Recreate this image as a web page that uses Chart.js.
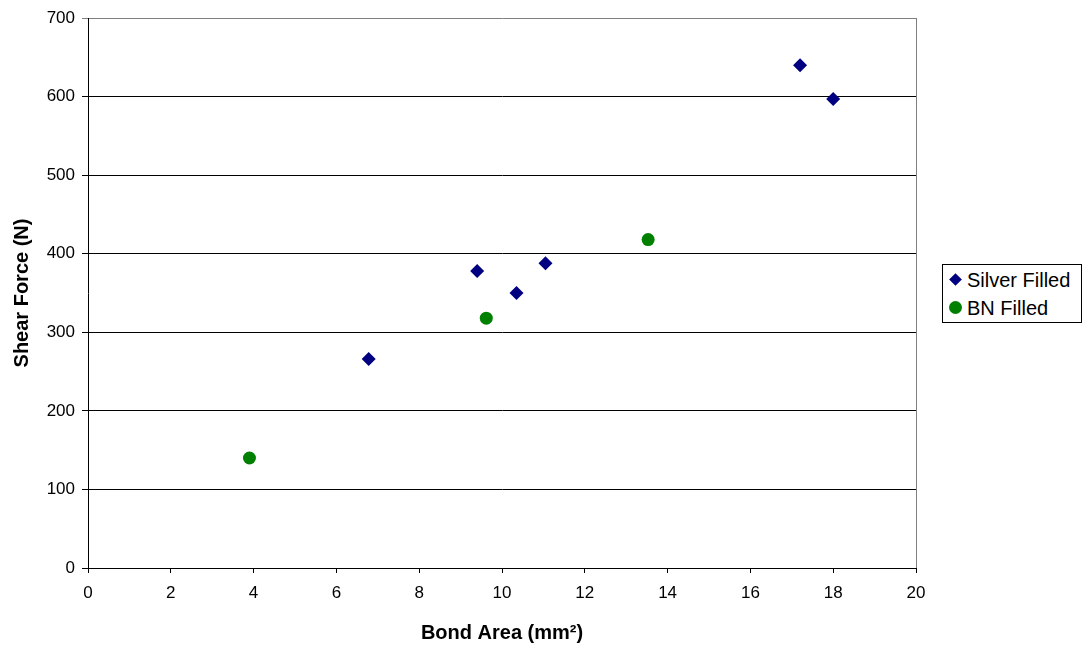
<!DOCTYPE html>
<html>
<head>
<meta charset="utf-8">
<script src="https://cdn.jsdelivr.net/npm/chart.js@4/dist/chart.umd.min.js"></script>
<style>
  html, body { margin: 0; padding: 0; background: #fff; }
  #wrap { position: relative; width: 1085px; height: 650px; }
  #legend {
    position: absolute; left: 942px; top: 264px; width: 138px; height: 57px;
    border: 1px solid #000; background: #fff;
    font-family: "Liberation Sans", Arial, sans-serif; font-size: 20px; color: #000;
  }
  .item { position: absolute; left: 0; height: 24px; line-height: 24px; }
  .item span.txt { position: absolute; left: 24px; white-space: nowrap; }
  .diamond {
    position: absolute; left: 8px; top: 7px; width: 9px; height: 9px;
    background: #000080; transform: rotate(45deg);
  }
  .dot {
    position: absolute; left: 6px; top: 5px; width: 13px; height: 13px;
    background: #008000; border-radius: 50%;
  }
</style>
</head>
<body>
<div id="wrap">
  <canvas id="chart" width="1085" height="650"></canvas>
  <div id="legend">
    <div class="item" style="top:3px"><span class="diamond"></span><span class="txt">Silver Filled</span></div>
    <div class="item" style="top:31px"><span class="dot"></span><span class="txt">BN Filled</span></div>
  </div>
</div>
<script>
// Data
const silverArea = [6.78, 9.40, 10.35, 11.05, 17.20, 18.00];
const silverForce = [266, 378, 350, 388, 640, 597];
const bnArea = [3.90, 9.62, 13.53];
const bnForce = [140, 318, 418];

const xTicks = [0, 2, 4, 6, 8, 10, 12, 14, 16, 18, 20];
const yTicks = [0, 100, 200, 300, 400, 500, 600, 700];

const toPoints = (xs, ys) => xs.map((x, i) => ({ x: x, y: ys[i] }));

// grey right border of the plot area
const plotBorder = {
  id: 'plotBorder',
  afterDraw(chart) {
    const { ctx, chartArea } = chart;
    ctx.save();
    ctx.strokeStyle = '#808080';
    ctx.lineWidth = 1;
    ctx.beginPath();
    ctx.moveTo(Math.round(chartArea.right) + 0.5, chartArea.top);
    ctx.lineTo(Math.round(chartArea.right) + 0.5, chartArea.bottom);
    ctx.stroke();
    ctx.restore();
  }
};

const font = 'Liberation Sans, Arial, sans-serif';

new Chart(document.getElementById('chart'), {
  type: 'scatter',
  data: {
    datasets: [
      {
        label: 'Silver Filled',
        data: toPoints(silverArea, silverForce),
        pointStyle: 'rectRot',
        pointRadius: 7,
        pointBorderWidth: 0,
        backgroundColor: '#000080',
        borderColor: '#000080'
      },
      {
        label: 'BN Filled',
        data: toPoints(bnArea, bnForce),
        pointStyle: 'circle',
        pointRadius: 6.5,
        pointBorderWidth: 0,
        backgroundColor: '#008000',
        borderColor: '#008000'
      }
    ]
  },
  options: {
    responsive: false,
    animation: false,
    layout: { padding: { left: 0, top: 18, right: 169, bottom: 0 } },
    plugins: {
      legend: { display: false },
      tooltip: { enabled: false }
    },
    scales: {
      x: {
        type: 'linear',
        min: 0,
        max: 20,
        afterFit: s => { s.height = 82; },
        afterBuildTicks: s => { s.ticks = xTicks.map(v => ({ value: v })); },
        border: { display: true, color: '#000', width: 1 },
        grid: { drawOnChartArea: false, drawTicks: true, tickLength: 5, color: '#000' },
        ticks: { color: '#000', padding: 10, font: { family: font, size: 17 } },
        title: {
          display: true,
          text: 'Bond Area (mm²)',
          color: '#000',
          padding: { top: 0, bottom: 5 },
          font: { family: font, size: 20, weight: 'bold' }
        }
      },
      y: {
        type: 'linear',
        min: 0,
        max: 700,
        afterFit: s => { s.width = 88; },
        afterBuildTicks: s => { s.ticks = yTicks.map(v => ({ value: v })); },
        border: { display: true, color: '#000', width: 1 },
        grid: {
          drawTicks: true,
          tickLength: 6,
          color: ctx => (ctx.tick && ctx.tick.value === 700 ? '#808080' : '#000')
        },
        ticks: { color: '#000', padding: 7, font: { family: font, size: 17 } },
        title: {
          display: true,
          text: 'Shear Force (N)',
          color: '#000',
          padding: { top: 10, bottom: 0 },
          font: { family: font, size: 20, weight: 'bold' }
        }
      }
    }
  },
  plugins: [plotBorder]
});
</script>
</body>
</html>
